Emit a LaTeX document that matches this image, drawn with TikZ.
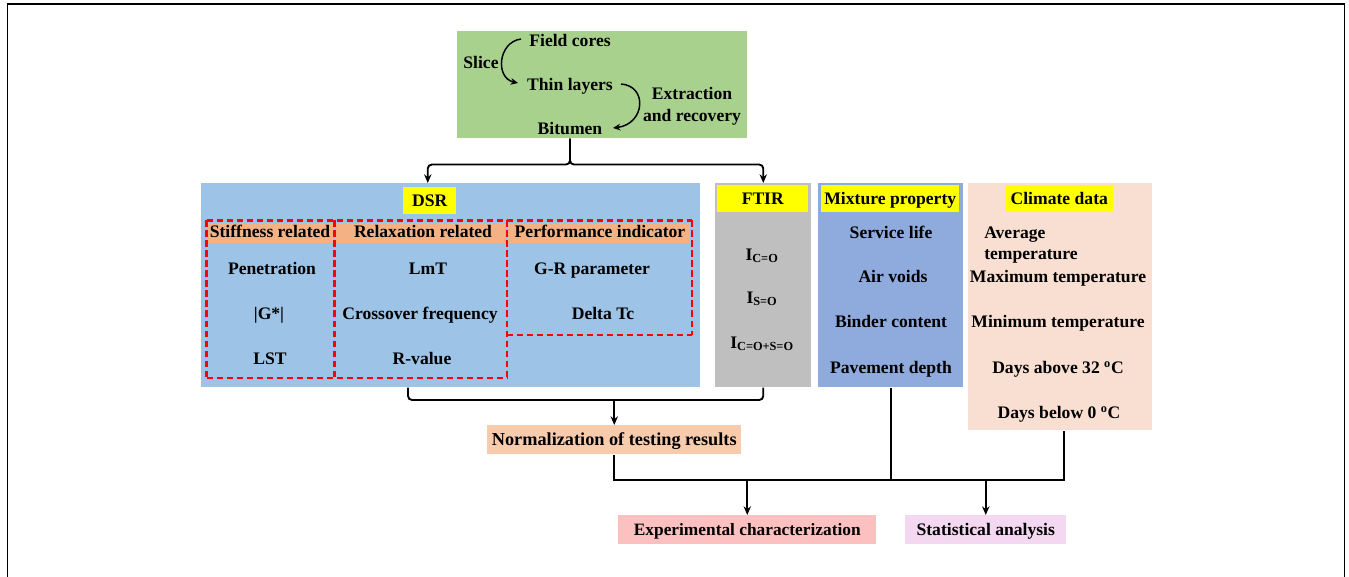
\documentclass[tikz,border=0pt]{standalone}
\usepackage{fontspec}
\setmainfont{Liberation Serif}
\usetikzlibrary{arrows.meta}
\definecolor{cgreen}{HTML}{A9D18E}
\definecolor{cblue}{HTML}{9DC3E6}
\definecolor{cgray}{HTML}{BFBFBF}
\definecolor{cmix}{HTML}{8FAADC}
\definecolor{cpeach}{HTML}{F8DFD1}
\definecolor{corange}{HTML}{F4B183}
\definecolor{cnorm}{HTML}{F8CBAD}
\definecolor{cexp}{HTML}{FDC0C0}
\definecolor{cstat}{HTML}{F4D8F2}
\definecolor{cyel}{HTML}{FFFF00}
\definecolor{cred}{HTML}{FF0000}
\begin{document}
\begin{tikzpicture}[x=0.75pt,y=-0.75pt,
  box/.style 2 args={rectangle, inner sep=0pt, anchor=north west, minimum width=#1*0.75pt, minimum height=#2*0.75pt},
  t/.style={font=\fontsize{13.2}{15}\selectfont\bfseries, inner sep=0pt, text height=10pt, text depth=2pt},
  arr/.style={line width=1.4pt, -{Stealth[length=6.5pt,width=5.5pt]}},
  carr/.style={line width=1.1pt, -{Stealth[length=5.5pt,width=5pt]}},
  ln/.style={line width=1.4pt},
  dline/.style={color=cred, line width=1.6pt, dash pattern=on 5pt off 2.5pt}]
\useasboundingbox (0,0) rectangle (1349,577);
% frame
\draw[line width=1.3pt] (7.5,577) -- (7.5,4) -- (1344.5,4) -- (1344.5,577);

% green box
\node[box={290}{107}, fill=cgreen] (green) at (457,31) {};
\node[t] (fc) at (570,41) {Field cores};
\node[t] (slice) at (481,63) {Slice};
\node[t] (tl) at (570,85) {Thin layers};
\node[t] (ext) at (692,94) {Extraction};
\node[t] (rec) at (692,116) {and recovery};
\node[t] (bit) at (570,129) {Bitumen};
\coordinate (c1s) at (521,39);
\coordinate (c1e) at (518,83);
\coordinate (c2s) at (621,84);
\coordinate (c2e) at (613,128);
\draw[carr] (c1s) .. controls (498,42) and (495,78) .. (c1e);
\draw[carr] (c2s) .. controls (648,86) and (645,124) .. (c2e);

% DSR
\node[box={499}{204}, fill=cblue] (dsr) at (201,183) {};
\node[box={53}{27}, fill=cyel] (dsrlbl) at (403,187) {};
\node[t] (dsrt) at (dsrlbl.center) {DSR};
\node[box={126}{20}, fill=corange] (hb1) at (207,223) {};
\node[box={170}{20}, fill=corange] (hb2) at (335,223) {};
\node[box={183}{20}, fill=corange] (hb3) at (507,223) {};
\node[box={128}{157}] (stiff) at (206.5,220.5) {};
\node[box={172}{157}] (relax) at (334.5,220.5) {};
\node[box={185}{114}] (perf) at (506.5,220.5) {};
\draw[dline] (stiff.north west) -- (perf.north east);
\draw[dline] (stiff.south west) -- (relax.south east);
\draw[dline] (perf.south west) -- (perf.south east);
\draw[dline] (stiff.north west) -- (stiff.south west);
\draw[dline] (relax.north west) -- (relax.south west);
\draw[dline] (relax.north east) -- (relax.south east);
\draw[dline] (perf.north east) -- (perf.south east);
\node[t] (h1) at (270,232) {Stiffness related};
\node[t] (h2) at (423,232) {Relaxation related};
\node[t] (h3) at (600,232) {Performance indicator};
\node[t] (pen) at (272,269) {Penetration};
\node[t] (gs) at (269,314) {|G*|};
\node[t] (lst) at (270,359) {LST};
\node[t] (lmt) at (428,269) {LmT};
\node[t] (cf) at (420,314) {Crossover frequency};
\node[t] (rv) at (422,359) {R-value};
\node[t] (gr) at (592,269) {G-R parameter};
\node[t] (dtc) at (603,314) {Delta Tc};

% FTIR
\node[box={96}{204}, fill=cgray] (ftir) at (715,183) {};
\node[box={91}{27}, fill=cyel] (ftirlbl) at (717,185) {};
\node[t] (ftirt) at (ftirlbl.center) {FTIR};
\node[t] (i1) at (762,255) {I\textsubscript{C=O}};
\node[t] (i2) at (762,298) {I\textsubscript{S=O}};
\node[t] (i3) at (762,343) {I\textsubscript{C=O+S=O}};

% Mixture
\node[box={145}{204}, fill=cmix] (mix) at (818,183) {};
\node[box={138}{27}, fill=cyel] (mixlbl) at (821,185) {};
\node[t] (mixt) at (mixlbl.center) {Mixture property};
\node[t] (sl) at (891,233) {Service life};
\node[t] (av) at (893,277) {Air voids};
\node[t] (bc) at (891,322) {Binder content};
\node[t] (pd) at (891,368) {Pavement depth};

% Climate
\node[box={184}{247}, fill=cpeach] (clim) at (968,183) {};
\node[box={108}{27}, fill=cyel] (climlbl) at (1005,185) {};
\node[t] (climt) at (climlbl.center) {Climate data};
\node[t, anchor=west] (avg1) at (984,233) {Average};
\node[t, anchor=west] (avg2) at (984,254) {temperature};
\node[t] (maxt) at (1058,277) {Maximum temperature};
\node[t] (mint) at (1058,322) {Minimum temperature};
\node[t] (da) at (1058,368) {Days above 32 \textsuperscript{o}C};
\node[t] (db) at (1059,413) {Days below 0 \textsuperscript{o}C};

% Normalization, outputs
\node[box={254}{29}, fill=cnorm] (norm) at (487,425) {};
\node[t, font=\fontsize{13.7}{16}\selectfont\bfseries] (normt) at (norm.center) {Normalization of testing results};
\node[box={258}{29}, fill=cexp] (exp) at (618,515) {};
\node[t, font=\fontsize{13}{15}\selectfont\bfseries] (expt) at (exp.center) {Experimental characterization};
\node[box={161}{29}, fill=cstat] (stat) at (905,515) {};
\node[t] (statt) at (stat.center) {Statistical analysis};

% connectors top
\draw[arr, rounded corners=3pt] (bit |- green.south) -- ++(0,26) -| ([xshift=-1.5pt]dsrlbl.north |- dsr.north);
\draw[arr, rounded corners=3pt] (bit |- green.south) -- ++(0,26) -| (ftir.north);

% bracket under DSR/FTIR
\coordinate (bj) at (408,400);
\draw[ln, rounded corners=3pt] (dsr.south -| bj) -- (bj) -- (bj -| ftir) -- (ftir.south);
\draw[arr] (bj -| norm) -- (norm.north);

% bottom join
\coordinate (cj) at (1064,480);
\draw[ln] (norm.south) |- (cj) -- (cj |- clim.south);
\draw[ln] (mix.south) -- (mix.south |- cj);
\draw[arr] (exp.north |- cj) -- (exp.north);
\draw[arr] (stat.north |- cj) -- (stat.north);
\end{tikzpicture}
\end{document}
